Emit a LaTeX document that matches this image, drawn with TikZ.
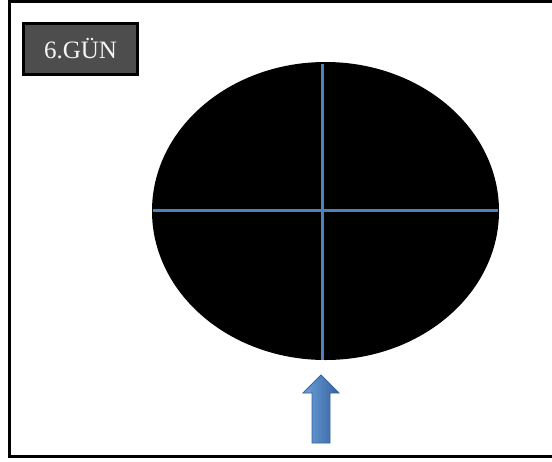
\documentclass[tikz,border=0pt]{standalone}
\usepackage{fontspec}
\setmainfont{Liberation Serif}
\usetikzlibrary{shapes.geometric}
\definecolor{crossblue}{RGB}{79,129,189}
\definecolor{arrowdark}{RGB}{56,98,158}
\definecolor{arrowlight}{RGB}{110,160,220}
\definecolor{boxgray}{RGB}{77,77,77}

\begin{document}
\begin{tikzpicture}[x=1pt,y=-1pt]
\useasboundingbox (0,0) rectangle (552,461);

% frame
\draw[line width=3pt] (552,1.5) -- (9,1.5) -- (9,456.5) -- (552,456.5);

% day label
\node[draw=black,line width=3pt,fill=boxgray,text=white!92!gray,font=\fontsize{25}{27}\selectfont,
  minimum width=114,minimum height=51,inner sep=0] (day) at (80.5,49) {6.GÜN};

% black disc
\node[ellipse,fill=black,minimum width=347,minimum height=298,inner sep=0] (disc) at (325.5,211) {};

\coordinate (top) at (322,64);
\coordinate (bot) at (322,360);
\coordinate (lft) at (153,210);
\coordinate (rgt) at (498,210);
\draw[crossblue,line width=3pt] (top) -- (bot);
\draw[crossblue,line width=3pt] (lft) -- (rgt);

% arrow
\draw[arrowdark,line width=0.8pt,left color=arrowlight,right color=arrowdark,middle color=crossblue]
  (312,443) -- (312,393) -- (303,393) -- (321,375) -- (339,393) -- (330,393) -- (330,443) -- cycle;

\end{tikzpicture}
\end{document}
